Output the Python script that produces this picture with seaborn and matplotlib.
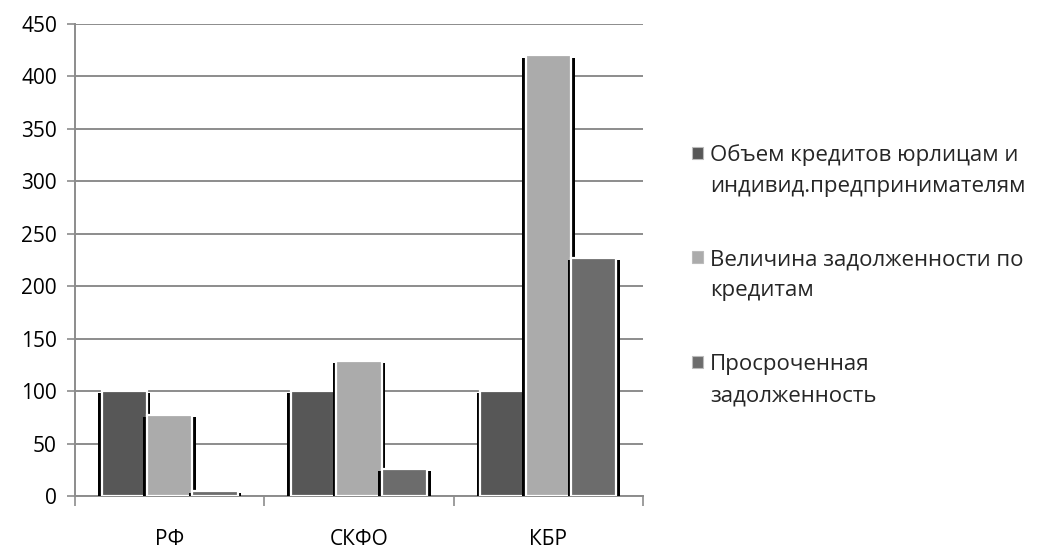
import matplotlib
matplotlib.use("Agg")
import matplotlib.pyplot as plt
import matplotlib.patheffects as pe
from matplotlib.patches import Patch
import seaborn as sns
import pandas as pd

regions = ["РФ", "СКФО", "КБР"]
series = [
    "Объем кредитов юрлицам и\nиндивид.предпринимателям",
    "Величина задолженности по\nкредитам",
    "Просроченная\nзадолженность",
]
volume = [100, 100, 100]
debt = [77, 129, 420]
overdue = [5, 26, 227]
yticks = [0, 50, 100, 150, 200, 250, 300, 350, 400, 450]

colors = ["#575757", "#ababab", "#6c6c6c"]

df = pd.DataFrame({
    "region": regions * 3,
    "series": [series[0]] * 3 + [series[1]] * 3 + [series[2]] * 3,
    "value": volume + debt + overdue,
})

sns.set_theme(style="white")
plt.rcParams["font.family"] = ["Open Sans", "DejaVu Sans"]

W, H = 1048, 549
fig = plt.figure(figsize=(W / 100, H / 100), dpi=100)
ax = fig.add_axes([75 / W, 1 - 496 / H, 568 / W, 472 / H])

sns.barplot(data=df, x="region", y="value", hue="series", palette=colors,
            width=0.72, edgecolor="white", linewidth=1.6, ax=ax, zorder=3,
            legend=False)

# dark drop shadow on both sides of every bar
shadow = [
    pe.SimplePatchShadow(offset=(-2.5, -1.5), shadow_rgbFace="black", alpha=1.0),
    pe.SimplePatchShadow(offset=(2.5, -1.5), shadow_rgbFace="black", alpha=1.0),
    pe.Normal(),
]
for p in ax.patches:
    p.set_path_effects(shadow)

ax.set_ylim(0, 450)
ax.set_xlim(-0.5, 2.5)
ax.set_yticks(yticks)
ax.set_yticklabels([str(v) for v in yticks])
ax.yaxis.grid(True, color="#8c8c8c", linewidth=1.4, zorder=0)
ax.set_axisbelow(True)
ax.set_xlabel("")
ax.set_ylabel("")

for s in ["top", "right"]:
    ax.spines[s].set_visible(False)
for s in ["left", "bottom"]:
    ax.spines[s].set_color("#8c8c8c")
    ax.spines[s].set_linewidth(1.4)

ax.tick_params(axis="y", which="major", left=True, length=6, width=1.2,
               color="#8c8c8c", labelsize=15, labelcolor="black", pad=7)
ax.set_xticks([0, 1, 2])
ax.set_xticks([-0.5, 0.5, 1.5, 2.5], minor=True)
ax.tick_params(axis="x", which="major", bottom=False, labelsize=15,
               labelcolor="black", pad=18)
ax.tick_params(axis="x", which="minor", bottom=True, length=7, width=1.2,
               color="#8c8c8c")

# legend: one block per series, square marker on the first line
legend_tops = [144, 249, 354]
for name, col, top in zip(series, colors, legend_tops):
    first, second = name.split("\n")
    handles = [Patch(facecolor=col, edgecolor="#bbbbbb", linewidth=0.8),
               Patch(facecolor="none", edgecolor="none")]
    fig.legend(handles, [first, second], loc="upper left",
               bbox_to_anchor=(692 / W, 1 - top / H), frameon=False,
               fontsize=16, handlelength=0.5, handleheight=0.5,
               handletextpad=0.3, labelspacing=0.45, borderpad=0.0,
               borderaxespad=0.0)

fig.savefig("out.png", dpi=100)
